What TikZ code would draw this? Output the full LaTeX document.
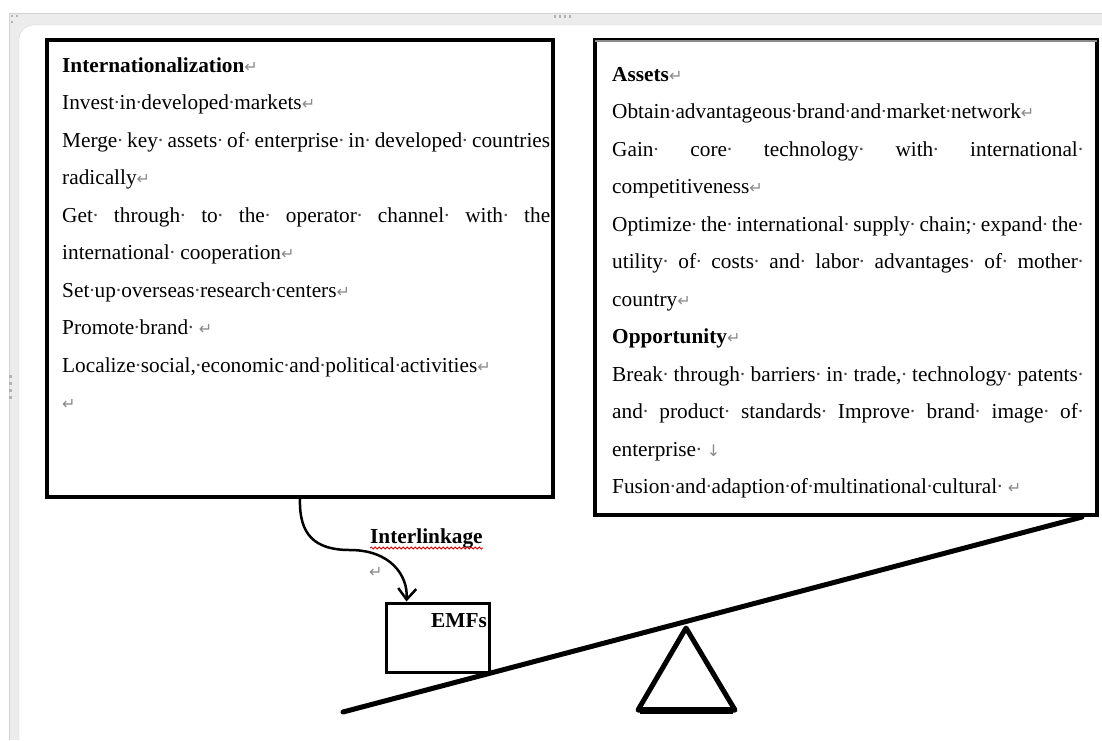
\documentclass[tikz,border=0pt]{standalone}
\usepackage{fontspec}
\setmainfont{Liberation Serif}
\newfontfamily\symf{DejaVu Sans}
\usetikzlibrary{arrows.meta,calc,decorations.pathmorphing}
\definecolor{markgray}{HTML}{8A8A8A}
\definecolor{framegray}{HTML}{ECECEC}
\definecolor{frameedge}{HTML}{D2D2D2}
% formatting marks: space dot, paragraph mark, line-break mark
\newcommand\sd{\makebox[0.25em]{\color{black!70}\textperiodcentered}}
\newcommand\js{\sd\hfill}
\newcommand\parmark{{\symf\fontsize{16}{16}\selectfont\color{markgray}↵}}
\newcommand\brkmark{{\symf\fontsize{16}{16}\selectfont\color{markgray}↓}}
\begin{document}
\begin{tikzpicture}[x=1pt,y=-1pt,
  txt/.style={anchor=base west, inner sep=0pt, font=\fontsize{21.3}{25}\selectfont},
  panel/.style={draw=black, fill=white, inner sep=0pt},
  handle/.style={fill=black!30, draw=none}]
\useasboundingbox (0,0) rectangle (1102,740);
% window frame
\fill[white] (0,0) rectangle (1102,740);
\fill[framegray] (9,13) rectangle (1102,740);
\draw[frameedge] (9,740) -- (9,13) -- (1102,13);
\path[fill=white, draw=frameedge, rounded corners=14pt] (1130,760) -- (19,760) -- (19,25) -- (1130,25);
% resize handles
\foreach \hx in {554,559,564,569} {\fill[handle] (\hx,15) rectangle +(2,3);}
\fill[handle] (11,15) rectangle +(2,2);
\fill[handle] (16,15) rectangle +(2,2);
\fill[handle] (11,21) rectangle +(2,2);
\foreach \hy in {375,382,389,396} {\fill[handle] (9,\hy) rectangle +(3,3);}

% panels
\node[panel, line width=4pt, minimum width=506pt, minimum height=457pt] (intl) at (300,268.5) {};
\node[panel, line width=3.5pt, minimum width=502pt, minimum height=475pt] (assets) at (846,277.5) {};
\draw[black!45, line width=1.2pt] ($(assets.north west)+(2,2.8)$) -- ($(assets.north east)+(-2,2.8)$);

% left panel text
\node[txt] (l0) at (62,72) {\textbf{Internationalization}\parmark};
\node[txt] (l1) at (62,109.5) {Invest\sd in\sd developed\sd markets\parmark};
\node[txt] (l2) at (62,147) {\hbox to 488pt{Merge\js key\js assets\js of\js enterprise\js in\js developed\js countries}};
\node[txt] (l3) at (62,184.5) {radically\parmark};
\node[txt] (l4) at (62,222) {\hbox to 488pt{Get\js through\js to\js the\js operator\js channel\js with\js the}};
\node[txt] (l5) at (62,259.5) {international\sd\ cooperation\parmark};
\node[txt] (l6) at (62,297) {Set\sd up\sd overseas\sd research\sd centers\parmark};
\node[txt] (l7) at (62,334.5) {Promote\sd brand\sd\ \parmark};
\node[txt] (l8) at (62,372) {Localize\sd social,\sd economic\sd and\sd political\sd activities\parmark};
\node[txt] (l9) at (62,409.5) {\parmark};

% right panel text
\node[txt] (r0) at (612,81) {\textbf{Assets}\parmark};
\node[txt] (r1) at (612,118.5) {Obtain\sd advantageous\sd brand\sd and\sd market\sd network\parmark};
\node[txt] (r2) at (612,156) {\hbox to 471pt{Gain\js core\js technology\js with\js international\sd}};
\node[txt] (r3) at (612,193.5) {competitiveness\parmark};
\node[txt] (r4) at (612,231) {\hbox to 471pt{Optimize\js the\js international\js supply\js chain;\js expand\js the\sd}};
\node[txt] (r5) at (612,268.5) {\hbox to 471pt{utility\js of\js costs\js and\js labor\js advantages\js of\js mother\sd}};
\node[txt] (r6) at (612,306) {country\parmark};
\node[txt] (r7) at (612,343.5) {\textbf{Opportunity}\parmark};
\node[txt] (r8) at (612,381) {\hbox to 471pt{Break\js through\js barriers\js in\js trade,\js technology\js patents\sd}};
\node[txt] (r9) at (612,418.5) {\hbox to 471pt{and\js product\js standards\js Improve\js brand\js image\js of\sd}};
\node[txt] (r10) at (612,456) {enterprise\sd\ \brkmark};
\node[txt] (r11) at (612,493.5) {Fusion\sd and\sd adaption\sd of\sd multinational\sd cultural\sd\ \parmark};

% seesaw
\coordinate (plankL) at (343,712);
\coordinate (plankR) at (1082,517);
\draw[line width=5pt, line cap=round] (plankL) -- (plankR);
\draw[line width=5pt, line join=round] (686,628) -- (735,710) -- (638,710) -- cycle;
\draw[line width=7pt] (640,710) -- (733,710);

% EMFs box
\node[panel, line width=3pt, minimum width=103pt, minimum height=69pt] (emf) at (437.5,637.5) {};
\node[txt, anchor=base east] (emflabel) at (487,627) {\textbf{EMFs}};

% interlinkage label and arrow
\node[txt] (link) at (370,543) {\textbf{Interlinkage}};
\draw[red!85!black, line width=0.8pt, decorate, decoration={snake, amplitude=1pt, segment length=4pt}]
  ($(link.base west)+(0,5)$) -- ($(link.base east)+(0,5)$);
\node[txt] (linkpm) at (369,577) {\parmark};
\draw[line width=2.5pt, -{Straight Barb[length=11pt,width=18pt]}]
  (intl.south) .. controls (299,535) and (315,550) .. (350,550)
  .. controls (390,550) and (408,575) .. ($(emf.north west)+(22,0)$);
\end{tikzpicture}
\end{document}
